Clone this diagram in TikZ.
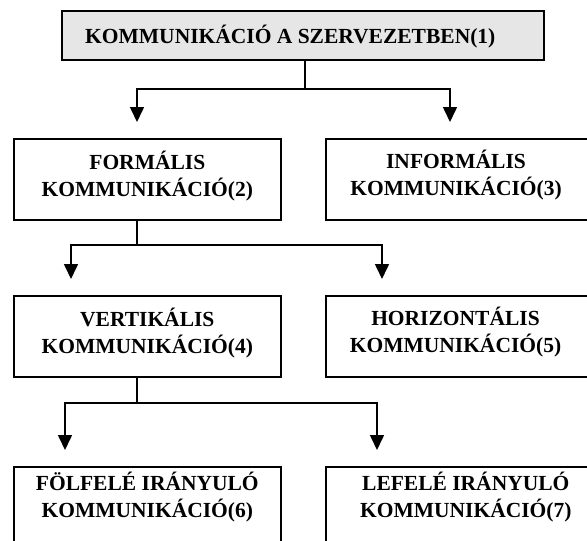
\documentclass[tikz,border=0pt]{standalone}
\usepackage{fontspec}
\setmainfont{Liberation Serif}
\usetikzlibrary{arrows.meta,calc}
\definecolor{boxgrey}{HTML}{E6E6E6}
\begin{document}
\begin{tikzpicture}[x=1pt,y=1pt,
  box/.style={draw=black,line width=1.6pt,anchor=north west,inner sep=0pt},
  lbl/.style={font=\bfseries\fontsize{21.5}{27}\selectfont,align=center,inner sep=0pt},
  conn/.style={line width=1.6pt},
  arr/.style={conn,-{Triangle[width=14pt,length=15pt]}}]
\useasboundingbox (0,0) rectangle (587,-541);
\clip (0,0) rectangle (587,-541);
% boxes
\node[box,fill=boxgrey,minimum width=482,minimum height=49] (b1) at (61,-10) {};
\node[box,minimum width=267,minimum height=81] (b2) at (13,-138) {};
\node[box,minimum width=270,minimum height=81] (b3) at (325,-138) {};
\node[box,minimum width=267,minimum height=81] (b4) at (13,-295) {};
\node[box,minimum width=270,minimum height=81] (b5) at (325,-295) {};
\node[box,minimum width=267,minimum height=100] (b6) at (13,-466) {};
\node[box,minimum width=280,minimum height=100] (b7) at (325,-466) {};
% texts
\node[lbl,anchor=base west] (t1) at (85,-43) {KOMMUNIKÁCIÓ A SZERVEZETBEN(1)};
\node[lbl] (t2) at ([yshift=3]b2.center) {FORMÁLIS\\KOMMUNIKÁCIÓ(2)};
\node[lbl] (t3) at ($(b3.north west)+(131,-37.5)$) {INFORMÁLIS\\KOMMUNIKÁCIÓ(3)};
\node[lbl] (t4) at ([yshift=3]b4.center) {VERTIKÁLIS\\KOMMUNIKÁCIÓ(4)};
\node[lbl] (t5) at ($(b5.north west)+(130.5,-37.5)$) {HORIZONTÁLIS\\KOMMUNIKÁCIÓ(5)};
\node[lbl] (t6) at ($(b6.north)+(0,-31.5)$) {FÖLFELÉ IRÁNYULÓ\\KOMMUNIKÁCIÓ(6)};
\node[lbl] (t7) at ($(b7.north)+(0,-31.5)$) {LEFELÉ IRÁNYULÓ\\KOMMUNIKÁCIÓ(7)};
% connectors
\coordinate (j1) at (305,-89);
\coordinate (a2) at (137,-122);
\coordinate (a3) at (450,-122);
\draw[conn] (j1 |- b1.south) -- (j1);
\draw[arr] (j1) -| (a2);
\draw[arr] (j1) -| (a3);
\coordinate (j2) at (137,-245);
\coordinate (a4) at (71,-279);
\coordinate (a5) at (382,-279);
\draw[conn] (j2 |- b2.south) -- (j2);
\draw[arr] (j2) -| (a4);
\draw[arr] (j2) -| (a5);
\coordinate (j3) at (137,-403);
\coordinate (a6) at (65,-450);
\coordinate (a7) at (377,-450);
\draw[conn] (j3 |- b4.south) -- (j3);
\draw[arr] (j3) -| (a6);
\draw[arr] (j3) -| (a7);
\end{tikzpicture}
\end{document}
